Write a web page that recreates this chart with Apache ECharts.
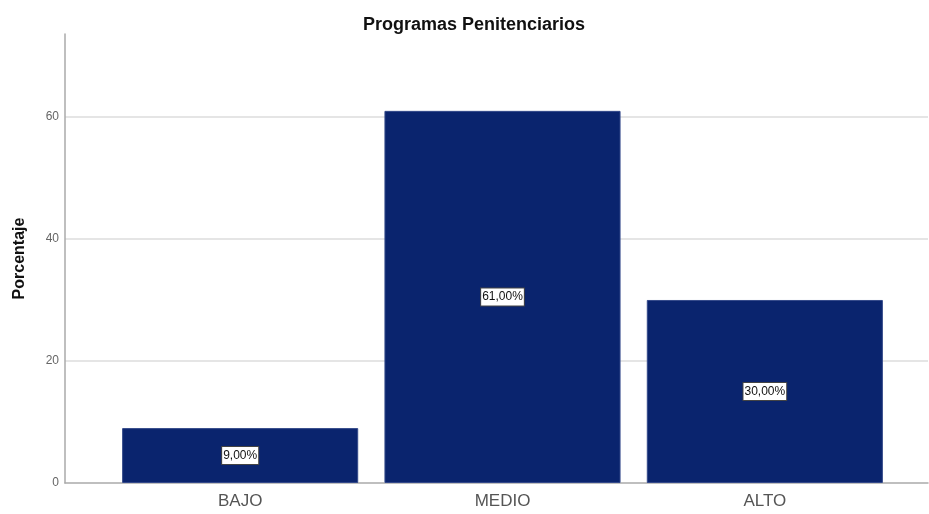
<!DOCTYPE html>
<html>
<head>
<meta charset="utf-8">
<script src="https://cdn.jsdelivr.net/npm/echarts@6/dist/echarts.min.js"></script>
<style>html,body{margin:0;padding:0;background:#fff}#c{width:929px;height:514px}</style>
</head>
<body>
<div id="c"></div>
<script>
var categories = ['BAJO', 'MEDIO', 'ALTO'];
var values = [9, 61, 30];
var yTicks = [0, 20, 40, 60];
var yMax = 73.6;

var chart = echarts.init(document.getElementById('c'), null, {renderer: 'canvas'});
var font = 'Liberation Sans, Arial, sans-serif';
chart.setOption({
  animation: false,
  backgroundColor: '#ffffff',
  title: {
    text: 'Programas Penitenciarios',
    left: 358, top: 11,
    textStyle: {fontFamily: font, fontSize: 18, fontWeight: 'bold', color: '#111'}
  },
  grid: [
    {left: 65, right: 1, top: 34, bottom: 31, containLabel: false},
    {left: 109, right: 33, top: 34, bottom: 31, containLabel: false}
  ],
  xAxis: [
    {gridIndex: 0, type: 'value', min: 0, max: 1,
     axisLine: {show: true, lineStyle: {color: '#aaaaaa', width: 1.5}},
     axisTick: {show: false}, axisLabel: {show: false}, splitLine: {show: false}},
    {gridIndex: 1, type: 'category', data: categories,
     axisLine: {show: false}, axisTick: {show: false},
     axisLabel: {fontFamily: font, fontSize: 17, color: '#555', margin: 10}}
  ],
  yAxis: [
    {gridIndex: 0, type: 'value', min: 0, max: yMax, interval: 20,
     name: 'Porcentaje', nameLocation: 'middle', nameGap: 37, nameRotate: 90,
     nameTextStyle: {fontFamily: font, fontSize: 16, fontWeight: 'bold', color: '#111'},
     axisLine: {show: true, lineStyle: {color: '#aaaaaa', width: 1.5}},
     axisTick: {show: false},
     axisLabel: {fontFamily: font, fontSize: 12, color: '#666', margin: 6,
       formatter: function (v) { return yTicks.indexOf(v) >= 0 ? String(v) : ''; }},
     splitLine: {show: true, showMinLine: false, showMaxLine: false,
       lineStyle: {color: '#dddddd', width: 1.5}}},
    {gridIndex: 1, type: 'value', min: 0, max: yMax, interval: 20, show: false,
     splitLine: {show: false}}
  ],
  series: [{
    type: 'bar', xAxisIndex: 1, yAxisIndex: 1,
    data: values,
    barCategoryGap: '10%',
    itemStyle: {color: '#0a246e', borderColor: '#34498a', borderWidth: 1},
    label: {
      show: true, position: 'inside',
      formatter: function (p) { return p.value.toFixed(2).replace('.', ',') + '%'; },
      fontFamily: font, fontSize: 12, color: '#111',
      backgroundColor: '#ffffff', borderColor: '#444', borderWidth: 1,
      padding: [3, 1, 2, 1]
    }
  }]
});
</script>
</body>
</html>
